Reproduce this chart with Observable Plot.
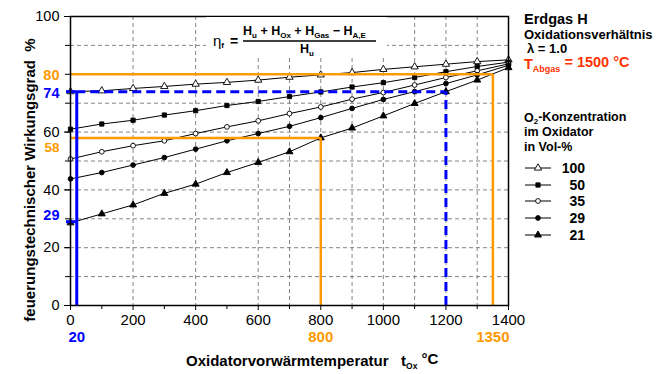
<!DOCTYPE html>
<html><head><meta charset="utf-8">
<script src="https://cdn.jsdelivr.net/npm/d3@7"></script>
<script src="https://cdn.jsdelivr.net/npm/@observablehq/plot@0.6"></script>
<style>
body{margin:0;background:#fff;}
#wrap{position:relative;width:667px;height:374px;overflow:hidden;background:#fff;}
#wrap svg{position:absolute;left:0;top:0;}
</style></head><body><div id="wrap"></div>
<script>
// ---- data ----
const temps = [0,100,200,300,400,500,600,700,800,900,1000,1100,1200,1300,1400];
const o2Levels = ["100","50","35","29","21"];
const eta100 = [74.0,74.3,75.1,75.8,76.6,77.2,78.0,79.0,79.8,80.6,81.7,82.6,83.5,84.4,85.0];
const eta50  = [61.0,62.8,64.1,65.9,67.4,69.2,70.6,72.3,73.9,75.6,77.1,78.9,80.9,82.7,84.2];
const eta35  = [50.7,53.2,55.3,57.0,59.5,61.8,63.9,66.4,68.7,71.4,73.7,76.3,78.9,81.2,83.6];
const eta29  = [43.8,46.0,48.6,51.2,54.1,57.0,59.5,62.0,65.0,68.2,71.3,74.0,76.8,79.8,83.1];
const eta21  = [28.6,31.7,34.8,38.8,42.0,46.0,49.5,53.2,58.0,61.4,65.6,69.9,74.0,78.0,82.3];
const etaSeries = [eta100, eta50, eta35, eta29, eta21];

const xTickLabels = [0,200,400,600,800,1000,1200,1400];
const xMinorTicks = [100,300,500,700,900,1100,1300];
const yTickLabels = [0,20,40,60,100];
const yMinorTicks = [0,10,20,30,40,50,60,70,80,90,100];
const gridY = [10,20,30,40,50,60,70,90];
const gridX = [200,400,600,700,800,900,1000,1100,1200,1300];

// reading examples (annotations)
const orangeT = [800, 1350];
const orangeEta = [58, 80];
const blueT = [20, 1200];
const blueEta = [29, 74];

// ---- build table ----
const rows = [];
o2Levels.forEach((s, i) => temps.forEach((t, j) => rows.push({series: s, t, eta: etaSeries[i][j]})));
const ser = s => rows.filter(d => d.series === s);

const orange = "#ff9900", blue = "#0000ff";
const font = "Liberation Sans, Arial, Helvetica, sans-serif";

const markerStyle = {
  "100": {symbol: "triangle", fill: "#fff", r: 2.7},
  "50":  {symbol: "square", fill: "#000", r: 2.4},
  "35":  {symbol: "circle", fill: "#fff", r: 2.4},
  "29":  {symbol: "circle", fill: "#000", r: 2.4},
  "21":  {symbol: "triangle", fill: "#000", r: 2.6}
};

const dotMarks = o2Levels.map(s => Plot.dot(ser(s), {
  x: "t", y: "eta", symbol: markerStyle[s].symbol, r: markerStyle[s].r,
  fill: markerStyle[s].fill, stroke: "#000", strokeWidth: 0.9
}));

const label = d => String(d);

const chart = Plot.plot({
  width: 667, height: 374,
  marginLeft: 70, marginRight: 159, marginTop: 16, marginBottom: 69,
  x: {domain: [0, 1400]},
  y: {domain: [0, 100]},
  style: {fontFamily: font, color: "#000", background: "transparent", overflow: "visible"},
  marks: [
    Plot.ruleY(gridY, {stroke: "#777", strokeDasharray: "4,3", strokeWidth: 0.9}),
    Plot.ruleX(gridX, {stroke: "#777", strokeDasharray: "4,3", strokeWidth: 0.9}),
    Plot.axisY({ticks: yMinorTicks, tickSize: 5, tickFormat: () => "", label: null}),
    Plot.axisY({ticks: yTickLabels, tickSize: 6, tickPadding: 5, tickFormat: "d", fontSize: 14.5, label: null}),
    Plot.axisX({ticks: xMinorTicks, tickSize: 4, tickFormat: () => "", label: null}),
    Plot.axisX({ticks: xTickLabels, tickSize: 5, tickPadding: 4, tickFormat: "d", fontSize: 15, label: null}),
    Plot.line(rows, {x: "t", y: "eta", z: "series", stroke: "#000", strokeWidth: 1}),
    ...dotMarks,
    // orange readings
    Plot.ruleY(orangeEta, {y: d => d, x1: 0, x2: (d, i) => orangeT[i], stroke: orange, strokeWidth: 2.5}),
    Plot.ruleX(orangeT, {x: d => d, y1: 0, y2: (d, i) => orangeEta[i], stroke: orange, strokeWidth: 2.5}),
    // blue readings
    Plot.ruleX([blueT[0]], {x: d => d, y1: 0, y2: blueEta[1], stroke: blue, strokeWidth: 3}),
    Plot.ruleY(blueEta, {y: d => d, x1: 0, x2: blueT[0], insetLeft: -4, stroke: blue, strokeWidth: 3}),
    Plot.ruleY([blueEta[1]], {y: d => d, x1: blueT[0], x2: blueT[1], stroke: blue, strokeWidth: 3, strokeDasharray: "9,5"}),
    Plot.ruleX([blueT[1]], {x: d => d, y1: 0, y2: blueEta[1], stroke: blue, strokeWidth: 3, strokeDasharray: "9,5"}),
    Plot.frame({stroke: "#000", strokeWidth: 1.5}),
    // coloured value labels on the y axis
    Plot.text([orangeEta[1]], {y: d => d, text: label, frameAnchor: "left", dx: -11, dy: 1.5, textAnchor: "end", fill: orange, fontWeight: "bold", fontSize: 14.5}),
    Plot.text([blueEta[1]], {y: d => d, text: label, frameAnchor: "left", dx: -11, dy: 2, textAnchor: "end", fill: blue, fontWeight: "bold", fontSize: 14.5}),
    Plot.text([orangeEta[0]], {y: d => d, text: label, frameAnchor: "left", dx: -11, dy: 10, textAnchor: "end", fill: orange, fontWeight: "bold", fontSize: 13.5}),
    Plot.text([blueEta[0]], {y: d => d, text: label, frameAnchor: "left", dx: -11, dy: -6, textAnchor: "end", fill: blue, fontWeight: "bold", fontSize: 14.5}),
    // coloured value labels below the x axis
    Plot.text([blueT[0]], {x: d => d, text: label, frameAnchor: "bottom", dy: 36, fill: blue, fontWeight: "bold", fontSize: 15}),
    Plot.text(orangeT, {x: d => d, text: label, frameAnchor: "bottom", dy: 36, fill: orange, fontWeight: "bold", fontSize: 15})
  ]
});

const wrap = document.getElementById("wrap");
wrap.appendChild(chart);

// ---- overlay: titles, formula, notes, legend ----
const svg = d3.select(wrap).append("svg")
  .attr("width", 667).attr("height", 374)
  .style("font-family", font);

function sub(textSel, main, subTxt, rest, subSize) {
  textSel.append("tspan").text(main);
  textSel.append("tspan").attr("font-size", subSize).attr("dy", "0.3em").text(subTxt);
  if (rest !== null) textSel.append("tspan").attr("dy", "-0.3em").text(rest);
}

// y axis title
svg.append("text")
  .attr("transform", "translate(35,180) rotate(-90)")
  .attr("text-anchor", "middle").attr("font-weight", "bold").attr("font-size", 15)
  .text("feuerungstechnischer Wirkungsgrad\u00A0\u00A0%");

// x axis title
{
  const t = svg.append("text").attr("x", 186).attr("y", 366)
    .attr("font-weight", "bold").attr("font-size", 15);
  sub(t, "Oxidatorvorwärmtemperatur\u00A0\u00A0\u00A0t", "Ox", "\u00A0°C", 8.5);
}

// formula
svg.append("rect").attr("x", 206).attr("y", 17).attr("width", 181).attr("height", 41).attr("fill", "#fff");
{
  const e = svg.append("text").attr("x", 213).attr("y", 46).attr("font-size", 15);
  e.append("tspan").text("η");
  e.append("tspan").attr("font-size", 8).attr("font-weight", "bold").attr("dy", "0.3em").text("f");
  svg.append("text").attr("x", 230).attr("y", 46).attr("font-size", 14).attr("font-weight", "bold").text("=");
  svg.append("line").attr("x1", 243).attr("x2", 376).attr("y1", 41).attr("y2", 41).attr("stroke", "#000").attr("stroke-width", 1.3);
  const n = svg.append("text").attr("x", 243).attr("y", 35).attr("font-size", 12.5).attr("font-weight", "bold");
  const parts = [["H", "u", " + "], ["H", "Ox", " + "], ["H", "Gas", " − "], ["H", "A,E", ""]];
  parts.forEach(([m, s, r]) => {
    n.append("tspan").text(m);
    n.append("tspan").attr("font-size", 8).attr("dy", 3).text(s);
    n.append("tspan").attr("dy", -3).text(r === "" ? "" : "\u00A0" + r.trim() + "\u00A0");
  });
  const d = svg.append("text").attr("x", 307).attr("y", 53).attr("text-anchor", "middle").attr("font-size", 12.5).attr("font-weight", "bold");
  d.append("tspan").text("H");
  d.append("tspan").attr("font-size", 8).attr("dy", 3).text("u");
}

// notes at the right
svg.append("text").attr("x", 524).attr("y", 24).attr("font-weight", "bold").attr("font-size", 14.5).text("Erdgas H");
svg.append("text").attr("x", 524).attr("y", 39).attr("font-weight", "bold").attr("font-size", 13).text("Oxidationsverhältnis");
svg.append("text").attr("x", 527).attr("y", 53).attr("font-weight", "bold").attr("font-size", 13).text("λ = 1.0");
{
  const t = svg.append("text").attr("x", 524).attr("y", 69).attr("font-weight", "bold").attr("font-size", 14.5).attr("fill", "#ff3300");
  sub(t, "T", "Abgas", " = 1500 °C", 9);
}
{
  const t = svg.append("text").attr("x", 524).attr("y", 122).attr("font-weight", "bold").attr("font-size", 12.5);
  sub(t, "O", "2", "-Konzentration", 8);
}
svg.append("text").attr("x", 524).attr("y", 136).attr("font-weight", "bold").attr("font-size", 12.5).text("im Oxidator");
svg.append("text").attr("x", 524).attr("y", 151).attr("font-weight", "bold").attr("font-size", 12.5).text("in Vol-%");

// legend
const legendY = [168, 185, 201, 218, 235];
o2Levels.forEach((s, i) => {
  const y = legendY[i];
  svg.append("line").attr("x1", 525).attr("x2", 551).attr("y1", y).attr("y2", y).attr("stroke", "#000").attr("stroke-width", 1);
  const st = markerStyle[s];
  const sym = st.symbol === "triangle" ? d3.symbolTriangle : st.symbol === "square" ? d3.symbolSquare : d3.symbolCircle;
  svg.append("path").attr("transform", `translate(538,${y})`)
    .attr("d", d3.symbol(sym, Math.PI * st.r * st.r)())
    .attr("fill", st.fill).attr("stroke", "#000").attr("stroke-width", 0.9);
  svg.append("text").attr("x", 585).attr("y", y + 5).attr("text-anchor", "end")
    .attr("font-weight", "bold").attr("font-size", 14).text(s);
});
</script></body></html>
